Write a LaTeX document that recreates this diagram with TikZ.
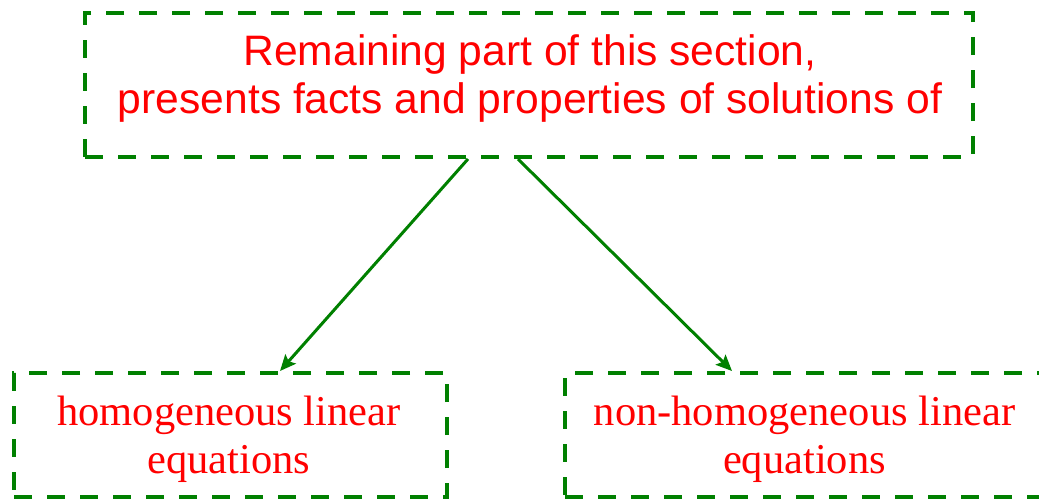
\documentclass[tikz,border=0pt]{standalone}
\usepackage{fontspec}
\setmainfont{Liberation Serif}
\newfontfamily\arialfont{Liberation Sans}
\usetikzlibrary{arrows.meta,calc}
\definecolor{boxgreen}{RGB}{0,128,0}
\definecolor{txtred}{RGB}{255,0,0}
\tikzset{
  dbox/.style={draw=boxgreen, line width=4pt, dash pattern=on 18pt off 15pt,
    inner sep=0pt},
  txt/.style={inner sep=0pt, align=center, text=txtred},
  conn/.style={draw=boxgreen, line width=3pt,
    -{Stealth[length=16pt,width=14pt,inset=3pt]}}
}
\begin{document}
\begin{tikzpicture}[x=1pt,y=-1pt]
\useasboundingbox (0,0) rectangle (1039,499);
\node[dbox, minimum width=888pt, minimum height=144pt] (top) at (529,85) {};
\node[dbox, minimum width=433pt, minimum height=124pt] (hl) at (230.5,435) {};
\node[dbox, minimum width=480pt, minimum height=124pt] (nhl) at (805,435) {};
\node[txt, font={\arialfont\fontsize{42.6pt}{48pt}\selectfont}] (toptxt) at (530,78)
  {Remaining part of this section,\\presents facts and properties of solutions of};
\node[txt, font={\fontsize{42.5pt}{48pt}\selectfont}] (hltxt) at (229,439.5)
  {homogeneous linear\\equations};
\node[txt, font={\fontsize{42.5pt}{48pt}\selectfont}] (nhltxt) at (804.5,439.5)
  {non-homogeneous linear\\equations};
\draw[conn] ($(top.south)+(-61,0)$) -- ($(hl.north)+(49.5,0)$);
\draw[conn] ($(top.south)+(-11,0)$) -- ($(nhl.north)+(-73,0)$);
\end{tikzpicture}
\end{document}
